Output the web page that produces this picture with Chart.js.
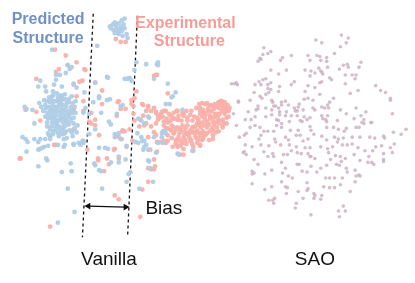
<!DOCTYPE html>
<html><head><meta charset="utf-8">
<script src="https://cdn.jsdelivr.net/npm/chart.js@4"></script>
<style>html,body{margin:0;padding:0;background:#fff;}canvas{display:block;}</style>
</head><body>
<canvas id="c" width="415" height="283"></canvas>
<script>
// t-SNE style embedding coordinates (arbitrary units)
const predicted = [
[65,63],[67,67],[53,73],[57,73],[53,78],[37,79],[42,85],[35,85],[43,90],[50,90],[51,83],[59,85],[71,82],[74,86],[49,95],[62,93],[69,95],
[36,102],[41,99],[47,101],[55,99],[66,101],[73,100],[21,106],[23,108],[29,109],[43,107],[47,110],[53,107],[60,109],[63,106],[67,113],
[47,117],[50,120],[53,123],[60,127],[63,120],[67,117],[71,123],[44,126],[47,129],[45,133],[50,131],[57,132],[63,131],[75,125],[31,123],
[19,137],[22,139],[24,142],[31,139],[35,142],[37,139],[42,139],[47,139],[46,135],[61,139],[70,136],[71,144],[76,143],[35,150],[37,149],
[39,148],[41,147],[23,152],[61,147],[43,159],[35,167],[68,164],
[48,98],[52,100],[56,102],[60,104],[50,104],[54,106],[58,108],[62,110],[46,106],[50,112],[54,114],[58,116],[62,114],[48,116],[52,118],
[56,120],[60,118],[64,122],[56,126],[58,112],[44,112],[66,110],[52,110],[55,96],[60,98],[64,102],[68,106],[70,112],[45,118],[54,124],
[60,122],[49,108],[57,104],[63,118],[51,116],[59,96],
[42,104],[44,100],[46,96],[50,94],[54,92],[58,94],[62,98],[66,98],[70,102],[68,110],[65,114],[61,116],[57,118],[53,120],[49,122],[51,126],
[55,128],[59,130],[62,126],[66,124],[68,120],[71,117],[73,112],[72,106],[58,100],[54,110],[50,100],[46,114],[42,116],[40,110],[38,106],
[44,122],[48,126],[52,130],[56,136],[60,134],[64,138],[67,130],[72,128],[74,132],
[47,136],[50,134],[55,133],[62,133],[69,132],[45,146],[55,145],[62,145],[71,145],[80,141],[78,145],[81,143],[44,161],[59,173],[69,172],
[65,190],[72,214],[55,225],
[87,134],[92,164],[97,148],[97,171],[99,172],[106,149],[109,163],[117,163],[100,190],[113,134],[115,135],
[134,142],[141,141],[143,147],[147,150],[155,153],[148,162],[152,183],[138,190],[125,183],[127,175],[129,173],[137,143],[140,137],[136,133],
[161,137],[165,133],[157,143],[178,155],
[105,75],[93,81],[82,91],[97,95],[97,97],[105,99],[83,107],[81,112],[99,112],[87,113],[115,113],[121,104],[119,105],[107,121],[109,124],
[93,129],[117,133],[113,137],[119,139],[125,146],[103,148],[81,141],[143,141],[145,145],[142,150],[123,77],[128,76],[130,79],[125,77],
[153,77],[143,123],[148,117],[147,161],[149,169],[93,166],[117,157],[133,68],[157,63],[124,160],
[167,82],[175,91],[172,95],[169,103],[165,103],[182,109],[163,131],[161,133],[162,143],[192,151],[177,154],
[108,23],[111,21],[113,19],[117,20],[120,17],[123,15],[119,24],[115,25],[112,27],[116,29],[120,28],[123,25],[125,31],[121,33],[117,31],
[113,30],[126,35],[109,25],[95,43],[114,22],[118,27],[122,21],
[49,47],[65,63],[69,65],[63,71],[106,76],[127,77],[108,98],[91,101],
[135,60],[145,62],[156,62],[157,60],[171,96],[147,116],[140,120],[137,118],[162,131],[153,137]
];
const experimental = [
[56,67],[33,77],[22,109],[33,111],[37,120],[71,109],[71,129],[51,145],[17,159],[74,95],
[16,159],[53,145],[47,229],
[85,150],[97,135],[96,161],[102,172],[105,159],[112,150],[117,159],[113,197],[117,201],[120,139],[125,147],[121,130],
[153,160],[147,169],[150,170],[153,170],[154,167],[147,183],[141,191],[139,219],[155,135],[160,142],[165,143],
[173,133],[177,140],[182,143],[177,145],[183,155],[193,151],[200,146],[202,140],[203,137],[187,134],[193,132],[200,133],
[82,67],[100,89],[81,100],[81,110],[89,112],[93,119],[87,121],[93,125],[121,131],[123,131],[117,137],[113,149],[96,159],[107,165],
[116,101],[130,99],[130,103],[132,105],[124,108],[115,115],[132,113],[142,104],[147,105],[145,110],[153,107],[155,111],[157,115],[139,119],
[145,123],[155,123],[153,74],[156,73],[149,150],[156,152],[156,142],[147,137],[131,141],[128,129],[133,97],[142,115],[157,119],[133,120],
[167,92],[160,113],[163,110],[168,113],[173,112],[177,110],[172,117],[177,119],[181,120],[187,117],[191,110],[183,113],[192,120],[197,117],
[167,122],[171,125],[177,127],[182,125],[187,125],[192,127],[197,123],[202,122],[167,135],[173,133],[179,133],[184,132],[189,133],[193,132],
[175,140],[180,141],[185,140],[190,141],[172,147],[177,147],[183,149],[199,103],[202,102],[207,102],[211,104],[215,103],[219,101],[222,100],
[225,101],[227,107],[223,107],[219,107],[214,108],[209,110],[203,109],[200,113],[205,115],[210,115],[215,113],[220,113],[225,113],[229,110],
[229,116],[223,119],[218,120],[213,121],[207,121],[201,127],[207,127],[212,128],[217,127],[223,125],[227,123],[197,130],[202,133],[207,133],
[213,135],[219,131],[203,139],[198,140],[200,145],[180,155],[163,125],[163,141],[197,143],[209,140],[213,139],[193,147],
[196,107],[200,110],[204,112],[208,108],[212,110],[216,106],[220,104],[224,104],[228,104],[226,110],[222,110],[218,116],[214,117],[210,118],
[206,112],[202,116],[198,119],[194,116],[190,114],[186,110],[182,112],[178,115],[174,118],[170,120],[166,118],[162,116],[165,128],[170,130],
[175,130],[180,128],[185,128],[190,130],[195,126],[199,125],[204,125],[209,124],[214,125],[219,123],[224,122],[216,132],[210,131],[205,135],
[200,136],[195,136],[189,137],[184,135],[178,137],[171,138],[167,141],[196,138],[192,144],[186,144],[180,146],[175,144],
[114,36],[119,39],[124,39],
[52,47],[63,53],[74,60],[83,68],[53,70],[80,79],[77,80],[71,83],[93,81],[100,103],[117,100],[119,108],[89,123],
[155,73],[135,90],[141,103],[147,106],[150,110],[155,112],[161,111],[165,110],[159,117],[163,121],[170,115],[176,110],[177,119],[183,115],
[187,120],[193,127],[200,107],[205,103],[209,105],[213,105],[218,102],[221,100],[223,101],[227,110],[230,107],[217,113],[210,115],[205,119],
[199,122],[207,123],[215,122],[220,120],[227,117],[138,126],[143,125],[150,126],[153,132],[167,128],[173,127],[180,130],[187,133],[197,132],
[203,131],[213,130],[223,127],[183,138],[191,140],[203,138]
];
const sao = [
[344,32],[351,35],[318,37],[324,40],[349,40],[343,44],[265,45],[272,49],[269,51],[337,51],[264,52],[261,56],[259,59],[262,57],[284,55],
[282,58],[293,53],[310,53],[319,53],[322,54],[329,55],[312,58],[323,58],[329,59],[364,60],[362,65],[350,62],[346,63],[351,65],[330,65],
[321,66],[317,71],[323,69],[307,68],[313,69],[342,67],[272,68],[288,68],[280,72],[312,74],[324,70],[325,72],[348,73],[355,73],[359,73],
[358,77],[332,76],[334,78],[264,78],[267,77],[260,80],[235,82],[238,83],[237,81],[272,81],[256,83],[262,83],[269,83],[296,80],[293,83],
[322,81],[324,80],[348,82],[310,84],[317,86],[281,85],[269,87],[272,88],[270,91],[267,93],[255,91],[280,90],[307,90],[322,93],[353,92],
[361,89],[379,84],[384,89],[389,91],[394,97],[394,99],[261,95],[263,97],[273,99],[274,101],[283,101],[287,100],[301,103],[306,98],[310,97],
[315,99],[336,97],[332,101],[330,104],[251,99],[239,101],[259,105],[275,105],[277,105],[280,107],[283,104],[290,104],[296,107],[300,106],
[315,107],[317,109],[324,106],[327,107],[331,107],[359,107],[343,109],[257,109],[259,108],[267,107],[273,109],[281,111],[288,111],[297,110],
[299,110],[305,109],[281,114],[273,114],[287,115],[293,115],[299,115],[306,116],[312,117],[324,115],[330,115],[349,113],[369,111],[364,115],
[396,113],[234,113],[249,111],[256,116],[267,116],[246,119],[237,125],[252,119],[256,125],[278,119],[280,120],[283,123],[291,121],[302,120],
[304,121],[309,119],[325,118],[328,119],[329,121],[340,120],[357,118],[367,119],[374,122],[375,122],[367,123],[251,127],[261,127],[265,131],
[269,131],[278,125],[283,127],[292,130],[300,130],[312,126],[313,130],[329,127],[336,127],[341,129],[349,128],[359,127],[362,127],[365,122],
[410,129],[405,134],[397,132],[387,136],[240,137],[247,133],[245,135],[262,135],[260,139],[275,131],[276,139],[287,137],[290,140],[298,135],
[302,135],[305,141],[310,139],[316,134],[324,136],[329,140],[337,137],[341,139],[346,138],[347,131],[355,137],[363,137],[373,137],[378,138],
[388,138],[379,147],[385,146],[394,148],[398,144],[396,153],[387,154],[376,151],[368,151],[361,148],[350,145],[345,145],[355,144],[340,142],
[335,147],[330,149],[323,147],[312,148],[307,148],[298,147],[291,145],[282,145],[277,142],[270,146],[262,145],[253,147],[246,145],[245,152],
[244,153],[247,155],[255,160],[265,152],[269,157],[274,154],[275,157],[285,155],[289,155],[293,151],[299,153],[303,154],[310,154],[312,157],
[313,157],[317,159],[331,153],[333,160],[338,156],[343,157],[344,162],[348,159],[357,155],[363,161],[372,157],[371,163],[375,163],[377,165],
[387,160],[387,162],[259,165],[283,163],[287,169],[299,165],[301,165],[313,167],[323,169],[329,166],[339,165],[342,166],[349,169],[350,173],
[358,171],[359,177],[362,176],[363,177],[253,172],[253,175],[255,174],[266,175],[273,171],[284,174],[290,177],[294,179],[304,172],[309,173],
[319,173],[328,179],[332,179],[337,179],[345,179],[358,183],[253,185],[283,183],[287,188],[289,189],[309,184],[310,190],[326,188],[332,189],
[337,189],[343,186],[353,193],[266,191],[273,188],[288,195],[300,193],[309,192],[316,195],[317,197],[324,197],[270,202],[274,202],[275,205],
[276,200],[298,205],[297,210],[305,200],[316,200],[323,201],[346,208],[341,213],[348,213],[342,219],[313,217],[232,82],[239,100]
];
const guideLeft = [[91,10],[80,240]];
const guideRight = [[136,12],[126,240]];
const biasArrow = [[86,208],[124,209]];
const textItems = [
  {t:'Predicted', x:45, y:21, bold:true, size:16, color:'#7191c6'},
  {t:'Structure', x:45, y:40, bold:true, size:16, color:'#7191c6'},
  {t:'Experimental', x:185, y:25, bold:true, size:16, color:'#f59c98'},
  {t:'Structure', x:189, y:43, bold:true, size:16, color:'#f59c98'},
  {t:'Bias', x:163, y:216, bold:false, size:19, color:'#111'},
  {t:'Vanilla', x:107, y:269, bold:false, size:19, color:'#111'},
  {t:'SAO', x:317, y:269, bold:false, size:19, color:'#111'}
];
const pts = a => a.map(p => ({x:p[0], y:p[1]}));

const textPlugin = {
  id:'texts',
  afterDatasetsDraw(chart){
    const {ctx, scales:{x, y}} = chart;
    ctx.save();
    ctx.textAlign = 'center';
    ctx.textBaseline = 'alphabetic';
    for (const it of textItems){
      ctx.font = (it.bold ? 'bold ' : '') + it.size + 'px "Liberation Sans", Arial, sans-serif';
      ctx.fillStyle = it.color;
      ctx.fillText(it.t, x.getPixelForValue(it.x), y.getPixelForValue(it.y));
    }
    ctx.restore();
  }
};

new Chart(document.getElementById('c'), {
  type:'scatter',
  data:{datasets:[
    {data:pts(sao), backgroundColor:'rgba(205,178,196,0.85)', borderWidth:0, pointRadius:1.8, clip:false},
    {data:pts(predicted), backgroundColor:'rgba(176,205,230,0.95)', borderWidth:0, pointRadius:2.4, clip:false},
    {data:pts(experimental), backgroundColor:'rgba(249,176,170,0.95)', borderWidth:0, pointRadius:2.4, clip:false},
    {type:'line', data:pts(guideLeft), borderColor:'#111', borderWidth:1.3, borderDash:[3,3], pointRadius:0, fill:false},
    {type:'line', data:pts(guideRight), borderColor:'#111', borderWidth:1.3, borderDash:[3,3], pointRadius:0, fill:false},
    {type:'line', data:pts(biasArrow), borderColor:'#111', borderWidth:1.3, fill:false,
     pointStyle:'triangle', pointRadius:4, pointRotation:[-90,90], pointBackgroundColor:'#111', pointBorderColor:'#111', pointBorderWidth:0}
  ]},
  options:{
    responsive:false, animation:false, devicePixelRatio:1,
    layout:{padding:0},
    plugins:{legend:{display:false}, tooltip:{enabled:false}},
    scales:{
      x:{type:'linear', min:0, max:415, display:false},
      y:{type:'linear', min:0, max:283, reverse:true, display:false}
    },
    events:[]
  },
  plugins:[textPlugin]
});
</script>
</body></html>
